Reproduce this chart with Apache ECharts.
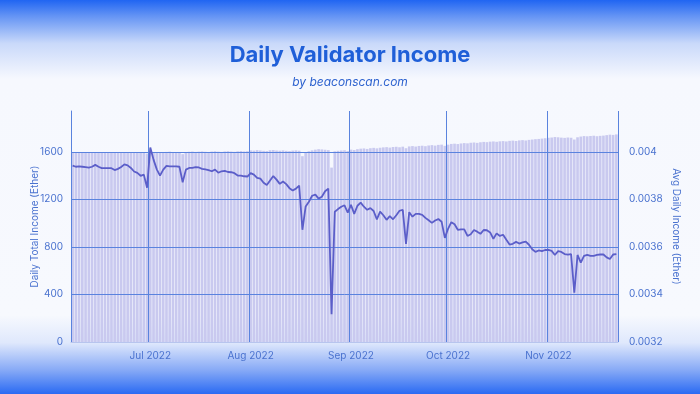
<!DOCTYPE html>
<html><head><meta charset="utf-8">
<script src="https://cdn.jsdelivr.net/npm/echarts@6/dist/echarts.min.js"></script>
<style>html,body{margin:0;padding:0;background:#fff}#c{width:700px;height:394px}</style>
</head><body><div id="c"></div>
<script>
// ---- data ----
const startDate = '2022-06-07';
const monthLabels = { '07': 'Jul 2022', '08': 'Aug 2022', '09': 'Sep 2022', '10': 'Oct 2022', '11': 'Nov 2022' };
const leftTicks = [0, 400, 800, 1200, 1600];
const rightTicks = [0.0032, 0.0034, 0.0036, 0.0038, 0.004];

// Daily total income (Ether), per day
const totalJun = [1592,1595,1590,1594,1596,1593,1590,1595,1597,1592,1594,1596,1591,1593,1595,1598,1594,1592,1596,1593,1590,1594,1596,1585];
const totalJul = [1600,1597,1594,1598,1596,1599,1601,1597,1595,1598,1580,1597,1600,1602,1599,1601,1603,1600,1598,1602,1604,1601,1599,1603,1605,1602,1600,1604,1606,1603,1605];
const totalAug = [1612,1610,1614,1611,1608,1606,1613,1615,1611,1609,1612,1608,1606,1610,1612,1609,1563,1598,1605,1612,1618,1622,1620,1617,1614,1467,1604,1608,1611,1613,1606];
const totalSep = [1618,1615,1622,1626,1628,1624,1630,1633,1629,1634,1637,1639,1635,1640,1642,1638,1643,1630,1645,1648,1644,1649,1651,1647,1653,1656,1652,1658,1660,1650];
const totalOct = [1660,1666,1668,1665,1670,1673,1671,1676,1678,1675,1680,1683,1681,1685,1687,1684,1688,1690,1687,1692,1694,1691,1696,1698,1695,1700,1703,1706,1708,1711,1714];
const totalNov = [1718,1720,1724,1722,1719,1717,1720,1718,1703,1722,1728,1732,1730,1733,1735,1731,1734,1736,1740,1744,1742,1746];

// Average daily income per validator (Ether)
const avgJun = [0.003942,0.003937,0.003939,0.003937,0.003935,0.003933,0.003937,0.003945,0.003937,0.003931,0.003931,0.003931,0.003931,0.003923,0.003928,0.003936,0.003947,0.003943,0.003932,0.003917,0.003911,0.003899,0.003904,0.003849];
const avgJul = [0.004018,0.003967,0.003926,0.003900,0.003925,0.003941,0.003939,0.003939,0.003939,0.003937,0.003872,0.003925,0.003932,0.003932,0.003935,0.003934,0.003928,0.003926,0.003923,0.003918,0.003925,0.003912,0.003918,0.003920,0.003915,0.003914,0.003910,0.003900,0.003900,0.003897,0.003896];
const avgAug = [0.003910,0.003904,0.003890,0.003887,0.003870,0.003860,0.003879,0.003898,0.003883,0.003865,0.003875,0.003864,0.003847,0.003837,0.003845,0.003858,0.003672,0.003770,0.003790,0.003815,0.003820,0.003803,0.003811,0.003834,0.003845,0.003317,0.003748,0.003759,0.003769,0.003775,0.003744];
const avgSep = [0.003777,0.003739,0.003773,0.003786,0.003769,0.003756,0.003763,0.003751,0.003716,0.003748,0.003733,0.003714,0.003729,0.003716,0.003733,0.003752,0.003756,0.003613,0.003746,0.003727,0.003739,0.003739,0.003735,0.003722,0.003712,0.003701,0.003711,0.003717,0.003706,0.003638];
const avgOct = [0.003676,0.003704,0.003695,0.003672,0.003674,0.003674,0.003646,0.003653,0.003671,0.003664,0.003655,0.003671,0.003670,0.003661,0.003634,0.003657,0.003646,0.003651,0.003630,0.003610,0.003613,0.003621,0.003614,0.003619,0.003622,0.003609,0.003590,0.003579,0.003585,0.003582,0.003587];
const avgNov = [0.003587,0.003583,0.003566,0.003582,0.003579,0.003570,0.003567,0.003570,0.003407,0.003566,0.003534,0.003562,0.003566,0.003562,0.003562,0.003566,0.003568,0.003568,0.003556,0.003549,0.003568,0.003570];

// ---- build ----
const totalIncome = [].concat(totalJun, totalJul, totalAug, totalSep, totalOct, totalNov);
const avgIncome = [].concat(avgJun, avgJul, avgAug, avgSep, avgOct, avgNov);
const dates = [];
(function () {
  const d0 = new Date(startDate + 'T00:00:00Z');
  for (let i = 0; i < totalIncome.length; i++) {
    const d = new Date(d0.getTime() + i * 86400000);
    dates.push(d.toISOString().slice(0, 10));
  }
})();
const isMonthStart = (idx, val) => String(val).slice(8, 10) === '01';

const blue = '#5a83de';
const labelBlue = '#4a72cf';
const FONT = 'Inter, Roboto, "DejaVu Sans", sans-serif';

const chart = echarts.init(document.getElementById('c'), null, { renderer: 'canvas' });
chart.setOption({
  animation: false,
  backgroundColor: {
    type: 'linear', x: 0, y: 0, x2: 0, y2: 1,
    colorStops: [
      { offset: 0, color: '#2065f2' },
      { offset: 0.04, color: '#6393f4' },
      { offset: 0.11, color: '#c9d9fa' },
      { offset: 0.2, color: '#f6f8fe' },
      { offset: 0.8, color: '#f7f9fe' },
      { offset: 0.87, color: '#dfe8fc' },
      { offset: 0.94, color: '#86a9f6' },
      { offset: 1, color: '#2a6af3' }
    ]
  },
  title: [
    { text: 'Daily Validator Income', left: 'center', top: 39,
      textStyle: { color: '#1f5fd8', fontSize: 22, fontWeight: 'bold', fontFamily: FONT } },
    { text: 'by beaconscan.com', left: 'center', top: 71,
      textStyle: { color: '#2d62cf', fontSize: 12, fontStyle: 'italic', fontWeight: 'normal', fontFamily: FONT } }
  ],
  grid: { left: 71, right: 82, top: 111, bottom: 52, containLabel: false, outerBoundsMode: 'none' },
  xAxis: {
    type: 'category', data: dates, boundaryGap: true, z: 3,
    axisLine: { show: true, lineStyle: { color: '#b7c5ee', width: 1 } },
    axisTick: { show: false },
    axisLabel: { interval: isMonthStart, formatter: v => monthLabels[v.slice(5, 7)] || '',
      color: labelBlue, fontSize: 10, fontFamily: FONT, margin: 9 },
    splitLine: { show: true, interval: isMonthStart, lineStyle: { color: blue, width: 1 } }
  },
  yAxis: [
    { type: 'value', position: 'left', min: leftTicks[0], max: 1943, interval: leftTicks[1] - leftTicks[0], z: 3,
      name: 'Daily Total Income (Ether)', nameLocation: 'middle', nameGap: 31, nameMoveOverlap: false,
      nameTextStyle: { color: labelBlue, fontSize: 10, fontFamily: FONT },
      axisLine: { show: true, lineStyle: { color: blue, width: 1 } },
      axisTick: { show: false },
      axisLabel: { color: labelBlue, fontSize: 10, fontFamily: FONT, margin: 8, showMaxLabel: false,
        formatter: v => String(v) },
      splitLine: { show: true, lineStyle: { color: ['rgba(0,0,0,0)', blue, blue, blue, blue, 'rgba(0,0,0,0)'], width: 1 } }
    },
    { type: 'value', position: 'right', min: rightTicks[0], max: 0.0041715, interval: 0.0002, z: 3,
      name: 'Avg Daily Income (Ether)', nameLocation: 'middle', nameGap: 53, nameRotate: -90, nameMoveOverlap: false,
      nameTextStyle: { color: labelBlue, fontSize: 10, fontFamily: FONT },
      axisLine: { show: false }, axisTick: { show: false },
      axisLabel: { color: labelBlue, fontSize: 10, fontFamily: FONT, margin: 11, showMaxLabel: false,
        formatter: v => String(+v.toFixed(4)) },
      splitLine: { show: false }
    }
  ],
  series: [
    { type: 'bar', name: 'Daily Total Income', data: totalIncome, yAxisIndex: 0, z: 2,
      barCategoryGap: '18%', itemStyle: { color: '#c9c9ef' } },
    { type: 'line', name: 'Avg Daily Income', data: avgIncome, yAxisIndex: 1, z: 6,
      showSymbol: false, symbol: 'none', lineStyle: { color: '#5b5ec9', width: 1.8 } }
  ]
});
</script>
</body></html>
